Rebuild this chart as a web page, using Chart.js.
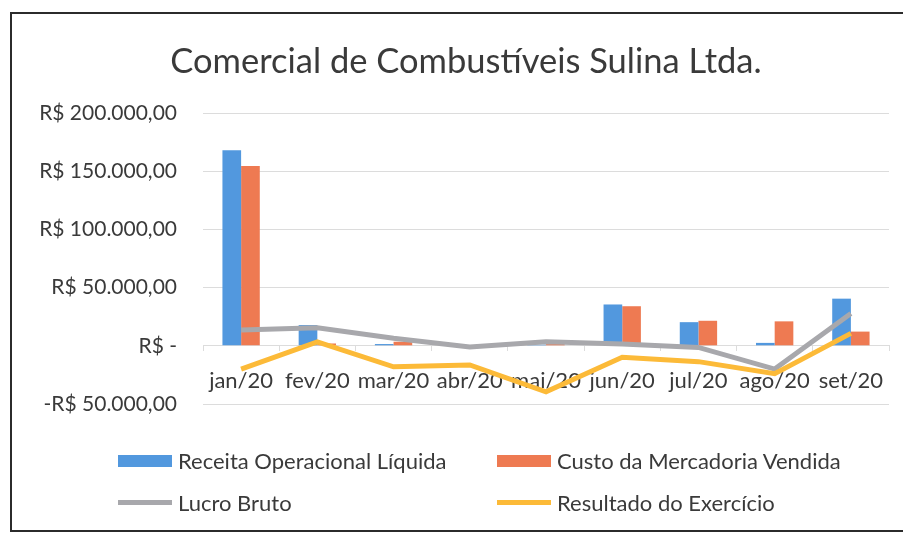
<!DOCTYPE html>
<html>
<head>
<meta charset="utf-8">
<script src="https://cdn.jsdelivr.net/npm/chart.js@4/dist/chart.umd.min.js"></script>
<style>
    html, body { margin: 0; padding: 0; background: #fff; }
    #wrap { position: relative; width: 903px; height: 536px; overflow: hidden; }
    #frame {
        position: absolute; left: 10px; top: 12px; width: 910px; height: 520px;
        border: 2px solid #2b2b2b; box-sizing: border-box;
    }
    #chart { position: absolute; left: 0; top: 0; }
    #legend { position: absolute; left: 0; top: 0; width: 903px; height: 536px; pointer-events: none; }
    .item { position: absolute; display: flex; align-items: center; font-family: Lato, sans-serif; font-size: 22px; color: #3a3a3a; }
    .sym { width: 54px; margin-right: 6px; }
</style>
</head>
<body>
<div id="wrap">
    <div id="frame"></div>
    <canvas id="chart" width="903" height="536"></canvas>
    <div id="legend"></div>
</div>
<script>
// Values (R$)
const months = ['jan/20', 'fev/20', 'mar/20', 'abr/20', 'mai/20', 'jun/20', 'jul/20', 'ago/20', 'set/20'];
const receita = [168000, 17800, 1500, 0, 1000, 35500, 20300, 2500, 40500];
const custo = [154500, 2000, 3500, 0, 1500, 34000, 21500, 21000, 12200];
const lucroBruto = [13500, 15500, 6500, -1000, 3500, 1500, -1400, -20000, 27700];
const resultado = [-20000, 3400, -18000, -16500, -39500, -9800, -13600, -24000, 10700];

const titleText = 'Comercial de Combustíveis Sulina Ltda.';
const textColor = '#3a3a3a';
const gridColor = '#dcdcdc';

function brl(v) {
    if (v === 0) return 'R$ -';
    const s = Math.abs(v).toLocaleString('pt-BR', { minimumFractionDigits: 2, maximumFractionDigits: 2 });
    return (v < 0 ? '-R$ ' : 'R$ ') + s;
}

// the title in the original sits centred over the whole frame, not the plot
const frameTitle = {
    id: 'frameTitle',
    afterDraw(chart) {
        const ctx = chart.ctx;
        ctx.save();
        ctx.font = '34.5px Lato';
        ctx.fillStyle = textColor;
        ctx.textAlign = 'center';
        ctx.textBaseline = 'middle';
        ctx.fillText(titleText, 466, 62);
        ctx.restore();
    }
};

const chart = new Chart(document.getElementById('chart'), {
    type: 'bar',
    data: {
        labels: months,
        datasets: [
            {
                label: 'Receita Operacional Líquida',
                data: receita,
                backgroundColor: 'rgb(82, 152, 222)',
                order: 2,
                categoryPercentage: 0.49,
                barPercentage: 1
            },
            {
                label: 'Custo da Mercadoria Vendida',
                data: custo,
                backgroundColor: 'rgb(238, 122, 82)',
                order: 2,
                categoryPercentage: 0.49,
                barPercentage: 1
            },
            {
                type: 'line',
                label: 'Lucro Bruto',
                data: lucroBruto,
                borderColor: 'rgb(168, 168, 172)',
                borderWidth: 5,
                pointRadius: 0,
                tension: 0,
                order: 1
            },
            {
                type: 'line',
                label: 'Resultado do Exercício',
                data: resultado,
                borderColor: 'rgb(252, 186, 56)',
                borderWidth: 5,
                pointRadius: 0,
                tension: 0,
                order: 0
            }
        ]
    },
    options: {
        responsive: false,
        animation: false,
        layout: { padding: { top: 113, right: 14, bottom: 132, left: 0 } },
        plugins: {
            legend: { display: false },
            tooltip: { enabled: false },
            title: { display: false }
        },
        scales: {
            x: {
                position: { y: 0 },
                offset: true,
                grid: {
                    offset: true,
                    drawOnChartArea: false,
                    drawTicks: true,
                    tickLength: 5,
                    color: gridColor
                },
                border: { color: gridColor },
                ticks: {
                    color: textColor,
                    font: { family: 'Lato', size: 22 },
                    padding: 17,
                    maxRotation: 0,
                    autoSkip: false
                }
            },
            y: {
                min: -50000,
                max: 200000,
                grid: { color: gridColor, drawTicks: false },
                border: { display: false },
                ticks: {
                    stepSize: 50000,
                    color: textColor,
                    font: { family: 'Lato', size: 21 },
                    padding: 26,
                    callback: (v) => brl(v)
                },
                afterFit: (s) => { s.width = 203; }
            }
        }
    },
    plugins: [frameTitle]
});

// legend laid out as in the original: two columns, two rows
const legendPos = [
    { x: 118, y: 461 }, { x: 497, y: 461 },
    { x: 118, y: 503 }, { x: 497, y: 503 }
];
const legendEl = document.getElementById('legend');
chart.data.datasets.forEach((ds, i) => {
    const item = document.createElement('div');
    item.className = 'item';
    item.style.left = legendPos[i].x + 'px';
    item.style.top = (legendPos[i].y - 14) + 'px';
    const sym = document.createElement('span');
    sym.className = 'sym';
    if (ds.type === 'line') {
        sym.style.height = '5px';
        sym.style.background = ds.borderColor;
    } else {
        sym.style.height = '12px';
        sym.style.background = ds.backgroundColor;
    }
    item.appendChild(sym);
    const txt = document.createElement('span');
    txt.textContent = ds.label;
    item.appendChild(txt);
    legendEl.appendChild(item);
});
</script>
</body>
</html>
